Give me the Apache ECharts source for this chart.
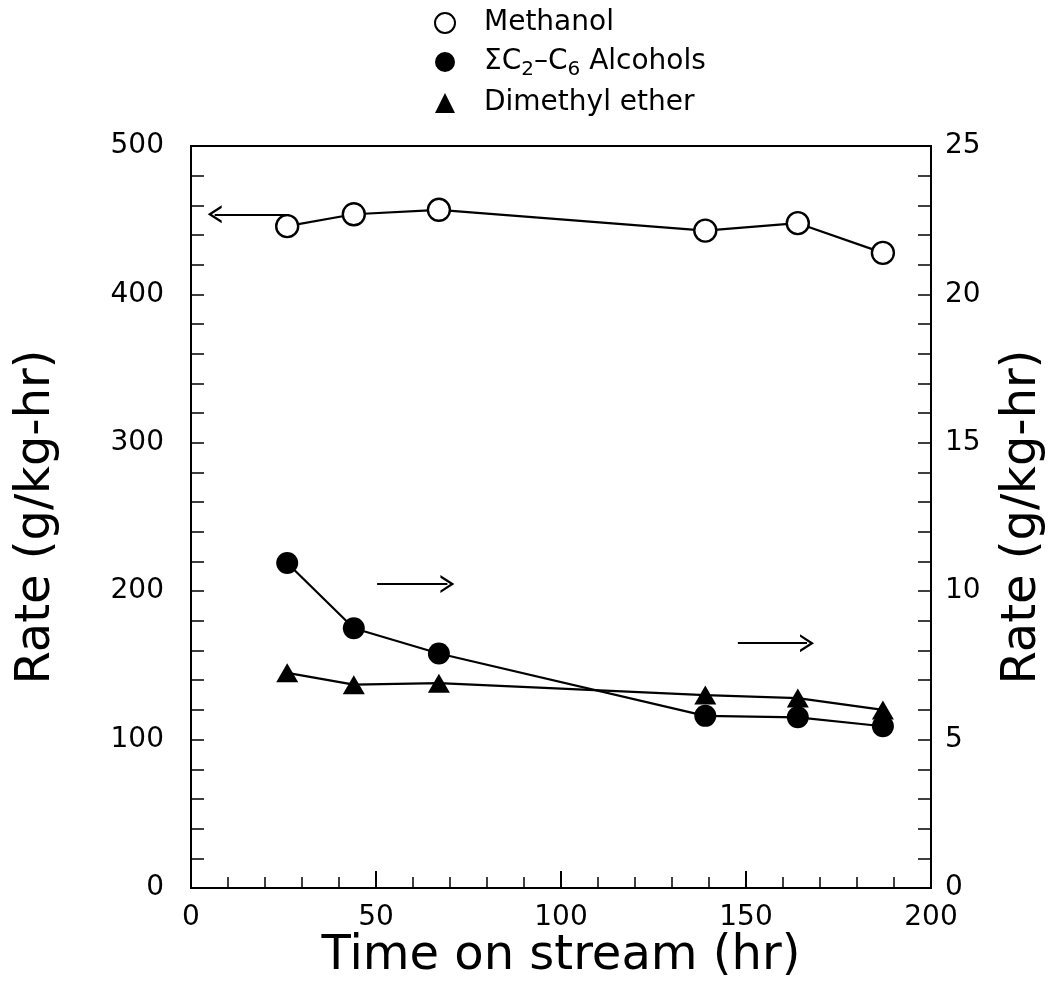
<!DOCTYPE html>
<html>
<head>
<meta charset="utf-8">
<title>Rate vs time on stream</title>
<script src="https://cdn.jsdelivr.net/npm/echarts@6/dist/echarts.min.js"></script>
<style>
  html, body { margin: 0; padding: 0; background: #fff; }
  #chart { width: 1055px; height: 998px; }
</style>
</head>
<body>
<div id="chart"></div>
<script>
// Time on stream (hr) for each sample
const times = [26, 44, 67, 139, 164, 187];
// Methanol rate, left axis (g/kg-hr)
const methanol = [446, 454, 457, 443, 448, 428];
// Sum of C2-C6 alcohols, right axis (g/kg-hr)
const alcohols = [10.95, 8.75, 7.9, 5.8, 5.75, 5.45];
// Dimethyl ether, right axis (g/kg-hr)
const dme = [7.25, 6.85, 6.9, 6.5, 6.4, 6.0];

// Axis ranges and tick steps
const xTicks = { min: 0, max: 200, step: 50 };
const leftTicks = { min: 0, max: 500, step: 100 };
const rightTicks = { min: 0, max: 25, step: 5 };

// Arrows telling which axis each group belongs to: [x0, y0, x1, y1]
const leftArrow = [26.5, 454, 6.4, 454];
const rightArrows = [
  [50.3, 10.24, 69.3, 10.24],
  [147.8, 8.25, 166.5, 8.25]
];

const FONT = 'DejaVu Sans';
const BLACK = '#000';
const chevron = 'path://M0,10 L6,0 L12,10 L10.2,10 L6,3 L1.8,10 Z';

function pairs(xs, ys) { return xs.map((x, i) => [x, ys[i]]); }
function arrowLine(a) {
  return [{ coord: [a[0], a[1]] }, { coord: [a[2], a[3]] }];
}

const arrowMark = (list) => ({
  silent: true,
  animation: false,
  symbol: ['none', chevron],
  symbolSize: [18, 14],
  label: { show: false },
  lineStyle: { color: BLACK, width: 2.2, type: 'solid' },
  emphasis: { disabled: true },
  data: list.map(arrowLine)
});

const richText = {
  n: { fontFamily: FONT, fontSize: 28, color: BLACK, verticalAlign: 'middle', lineHeight: 36 },
  s: { fontFamily: FONT, fontSize: 20, color: BLACK, verticalAlign: 'bottom', lineHeight: 36,
       padding: [14, 0, 0, 0] }
};

const axisCommon = {
  axisLine: { show: true, lineStyle: { color: BLACK, width: 2 } },
  splitLine: { show: false },
  axisLabel: { color: BLACK, fontFamily: FONT, fontSize: 28 },
  nameTextStyle: { color: BLACK, fontFamily: FONT, fontSize: 48 }
};

const chart = echarts.init(document.getElementById('chart'), null, { renderer: 'canvas' });

chart.setOption({
  animation: false,
  backgroundColor: '#fff',
  grid: {
    left: 191, right: 117, top: 146, bottom: 110,
    show: true, borderColor: BLACK, borderWidth: 2, backgroundColor: 'transparent'
  },
  legend: {
    orient: 'vertical',
    left: 429,
    top: 4,
    itemWidth: 20,
    itemHeight: 20,
    itemGap: 9,
    selectedMode: false,
    textStyle: { rich: richText, padding: [0, 0, 0, 24] },
    formatter: function (name) {
      if (name === 'ΣC2–C6 Alcohols') {
        return '{n|ΣC}{s|2}{n|–C}{s|6}{n| Alcohols}';
      }
      return '{n|' + name + '}';
    },
    data: [
      { name: 'Methanol', icon: 'circle',
        itemStyle: { color: '#fff', borderColor: BLACK, borderWidth: 2 } },
      { name: 'ΣC2–C6 Alcohols', icon: 'circle',
        itemStyle: { color: BLACK, borderWidth: 0 } },
      { name: 'Dimethyl ether', icon: 'triangle',
        itemStyle: { color: BLACK, borderWidth: 0 } }
    ]
  },
  xAxis: Object.assign({}, axisCommon, {
    type: 'value',
    min: xTicks.min, max: xTicks.max, interval: xTicks.step,
    name: 'Time on stream (hr)',
    nameLocation: 'middle',
    nameMoveOverlap: false,
    nameGap: 45,
    axisTick: { show: true, inside: true, length: 17, lineStyle: { color: BLACK, width: 2 } },
    minorTick: { show: true, splitNumber: 5, length: 11, lineStyle: { color: BLACK, width: 1.5 } },
    axisLabel: Object.assign({}, axisCommon.axisLabel, { margin: 16 })
  }),
  yAxis: [
    Object.assign({}, axisCommon, {
      type: 'value',
      position: 'left',
      min: leftTicks.min, max: leftTicks.max, interval: leftTicks.step,
      name: 'Rate (g/kg-hr)',
      nameLocation: 'middle',
      nameRotate: 90,
      nameGap: 130,
      axisTick: { show: true, inside: true, length: 13, lineStyle: { color: BLACK, width: 1.5 } },
      minorTick: { show: true, splitNumber: 5, length: 13, lineStyle: { color: BLACK, width: 1.5 } },
      axisLabel: Object.assign({}, axisCommon.axisLabel, { margin: 27 })
    }),
    Object.assign({}, axisCommon, {
      type: 'value',
      position: 'right',
      min: rightTicks.min, max: rightTicks.max, interval: rightTicks.step,
      name: 'Rate (g/kg-hr)',
      nameLocation: 'middle',
      nameRotate: 90,
      nameGap: 68,
      axisTick: { show: true, inside: true, length: 13, lineStyle: { color: BLACK, width: 1.5 } },
      minorTick: { show: true, splitNumber: 5, length: 13, lineStyle: { color: BLACK, width: 1.5 } },
      axisLabel: Object.assign({}, axisCommon.axisLabel, { margin: 14 })
    })
  ],
  series: [
    {
      name: 'Methanol',
      type: 'line',
      yAxisIndex: 0,
      data: pairs(times, methanol),
      symbol: 'circle',
      symbolSize: 22,
      showAllSymbol: true,
      lineStyle: { color: BLACK, width: 2.2 },
      itemStyle: { color: '#fff', borderColor: BLACK, borderWidth: 2.4 },
      emphasis: { disabled: true },
      markLine: arrowMark([leftArrow]),
      z: 3
    },
    {
      name: 'ΣC2–C6 Alcohols',
      type: 'line',
      yAxisIndex: 1,
      data: pairs(times, alcohols),
      symbol: 'circle',
      symbolSize: 22,
      lineStyle: { color: BLACK, width: 2.2 },
      itemStyle: { color: BLACK, borderWidth: 0 },
      emphasis: { disabled: true },
      markLine: arrowMark(rightArrows),
      z: 4
    },
    {
      name: 'Dimethyl ether',
      type: 'line',
      yAxisIndex: 1,
      data: pairs(times, dme),
      symbol: 'triangle',
      symbolSize: [22, 19],
      lineStyle: { color: BLACK, width: 2.2 },
      itemStyle: { color: BLACK, borderWidth: 0 },
      emphasis: { disabled: true },
      z: 3
    }
  ]
});
</script>
</body>
</html>
